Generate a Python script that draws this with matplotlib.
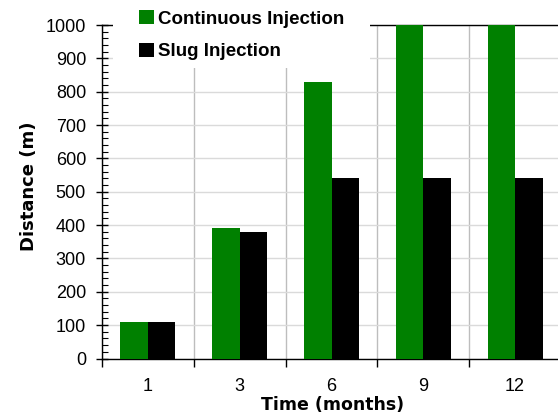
import numpy as np
import matplotlib
matplotlib.use("Agg")
import matplotlib.pyplot as plt
from matplotlib.patches import Patch, Rectangle
from matplotlib.ticker import MultipleLocator

categories = ["1", "3", "6", "9", "12"]
continuous = [110, 390, 830, 1000, 1000]
slug = [110, 380, 540, 540, 540]
series_names = ["Continuous Injection", "Slug Injection"]

plt.rcParams['font.family'] = ['Liberation Sans', 'DejaVu Sans']

W, H = 558, 416
fig = plt.figure(figsize=(W/100, H/100), dpi=100)
ax = fig.add_axes([102/W, 1-358.5/H, 459/W, (358.5-25)/H])

x = np.arange(len(categories))
w = 0.3
ax.bar(x - w/2, continuous, w, color='#008000', zorder=3)
ax.bar(x + w/2, slug, w, color='black', zorder=3)

ax.set_xlim(-0.5, len(categories) - 0.5)
ax.set_ylim(0, 1000)
ax.set_xticks(x)
ax.set_xticklabels(categories, fontsize=13)
ax.set_xticks(np.arange(-0.5, len(categories), 1), minor=True)
ax.tick_params(axis='x', which='major', length=0, pad=14)
ax.tick_params(axis='x', which='minor', length=6, direction='out', width=1)
ax.yaxis.set_major_locator(MultipleLocator(100))
ax.yaxis.set_minor_locator(MultipleLocator(20))
ax.tick_params(axis='y', which='major', length=9, direction='inout', width=1, labelsize=13, pad=7)
ax.tick_params(axis='y', which='minor', length=4, direction='in', width=0.8)

ax.xaxis.grid(True, which='minor', color='#bdbdbd', linewidth=1, zorder=0)
ax.yaxis.grid(True, which='major', color='#dadada', linewidth=1, zorder=0)
ax.set_axisbelow(True)

for s in ax.spines.values():
    s.set_color('black')
    s.set_linewidth(1)

fig.text(29/W, 1-186.5/H, "Distance (m)", rotation=90, ha='center', va='center',
         fontsize=13, fontweight='bold', family=['DejaVu Sans'])
fig.text(332.5/W, 1-410/H, "Time (months)", ha='center', va='baseline',
         fontsize=12.5, fontweight='bold', family=['DejaVu Sans'])

fig.patches.append(Rectangle((113/W, 1-68/H), (370-113)/W, 68/H,
                             transform=fig.transFigure, facecolor='white',
                             edgecolor='none', zorder=4))
handles = [Patch(facecolor='#008000'), Patch(facecolor='black')]
fig.legend(handles, series_names, loc='upper left',
           bbox_to_anchor=(139.3/W, 1-10/H), frameon=False, borderpad=0,
           borderaxespad=0,
           handlelength=0.8, handleheight=0.8, handletextpad=0.2,
           labelspacing=0.8, prop={'weight': 'bold', 'size': 13.5})

fig.savefig("out.png", dpi=100)
